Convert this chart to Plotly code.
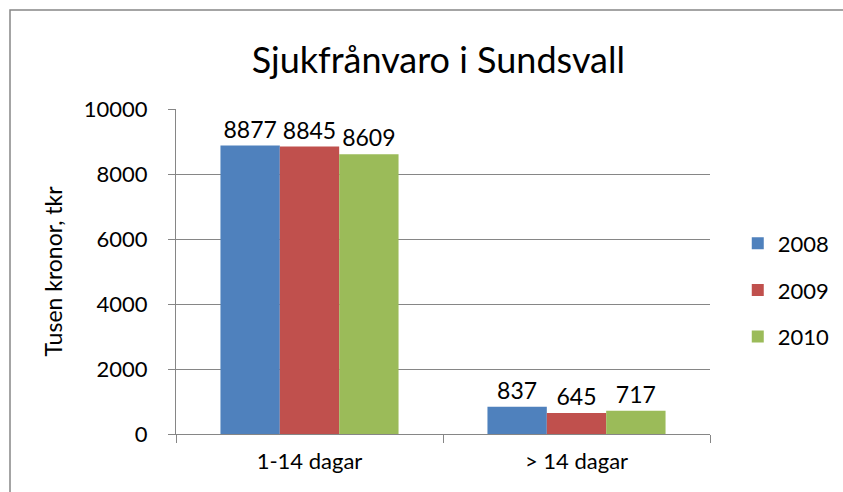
import plotly.graph_objects as go

# Data
categories = ['1-14 dagar', '> 14 dagar']
years = ['2008', '2009', '2010']
values_2008 = [8877, 837]
values_2009 = [8845, 645]
values_2010 = [8609, 717]
series = [values_2008, values_2009, values_2010]
colors = ['#4F81BD', '#C0504D', '#9BBB59']

FONT = 'Lato'

fig = go.Figure()
for i, (year, vals) in enumerate(zip(years, series)):
    fig.add_trace(go.Bar(
        x=categories, y=vals, name=year,
        marker=dict(color=colors[i], line_width=0),
        text=[str(v) for v in vals],
        textposition='outside',
        textfont=dict(size=23, color='black', family=FONT),
        cliponaxis=False,
        legendgroup=year,
    ))

fig.update_layout(
    width=843, height=492,
    barmode='group', bargap=0.333, bargroupgap=0,
    paper_bgcolor='white', plot_bgcolor='white',
    font=dict(family=FONT, color='black', size=22),
    margin=dict(l=176, r=133, t=109, b=58, autoexpand=False),
    title=dict(text='Sjukfrånvaro i Sundsvall', x=0.52, xanchor='center',
               y=1 - 60 / 492, yanchor='middle',
               font=dict(size=36, family=FONT, color='black')),
    legend=dict(x=1.052, xanchor='left', y=0.443, yanchor='middle',
                traceorder='grouped', tracegroupgap=15,
                font=dict(size=22, family=FONT), itemwidth=30),
    showlegend=True,
)

fig.update_yaxes(
    range=[0, 10000], dtick=2000, tickformat='d',
    showgrid=True, gridcolor='#868686', gridwidth=1,
    showline=True, linecolor='#868686', linewidth=1,
    ticks='outside', ticklen=7, tickcolor='#868686',
    tickfont=dict(size=22), ticklabelstandoff=16,
    title=dict(text='Tusen kronor, tkr', font=dict(size=23), standoff=14),
    zeroline=False,
)
fig.update_xaxes(
    showline=True, linecolor='#868686', linewidth=1,
    ticks='outside', tickson='boundaries', ticklen=8, tickcolor='#868686',
    tickfont=dict(size=22), ticklabelstandoff=8,
)

# chart border, as in the spreadsheet export
fig.add_shape(type='rect', xref='paper', yref='paper',
              x0=(10 - 176) / 534, x1=(900 - 176) / 534,
              y0=-1, y1=(434 - 10) / 325,
              line=dict(color='#878787', width=1.5), fillcolor='rgba(0,0,0,0)',
              layer='below')

# drop the default page margin so the figure sits at the window's corner
fig.write_html('out.html', config={'displayModeBar': False},
               post_script="document.body.style.margin='0';")
